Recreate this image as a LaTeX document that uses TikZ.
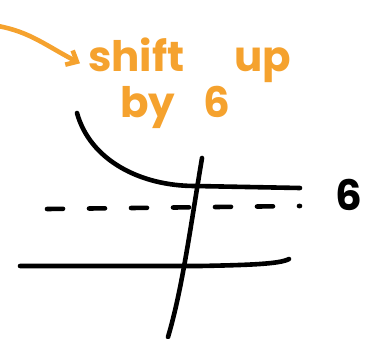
\documentclass[tikz,border=0pt]{standalone}
\usepackage{fontspec}
\setmainfont{Poppins}
\usetikzlibrary{arrows.meta}
\definecolor{marker}{HTML}{F5A22E}

\begin{document}
\begin{tikzpicture}[x=1pt,y=-1pt,
    ink/.style={line width=4.6pt,line cap=round,line join=round},
    note/.style={text=marker,font=\fontsize{42}{42}\selectfont\bfseries,inner sep=0pt,anchor=base west}]

    \useasboundingbox (0,0) rectangle (377,339);

    % orange remark
    \node[note] (shift) at (88,72) {shift};
    \node[note] (up) at (234,72) {up};
    \node[note] (by) at (120,118) {by};
    \node[note] (six) at (203,118) {6};
    \coordinate (from) at (-2,26);
    \draw[ink,marker,-{Straight Barb[length=9pt,width=16pt]}] (from) .. controls (30,32) and (45,45) .. ([xshift=-8pt,yshift=-8pt]shift.west);

    % axes
    \draw[ink] (20,266) -- (200,266) .. controls (250,265) and (280,264) .. (289,259);
    \draw[ink] (202,158) .. controls (190,230) and (182,290) .. (168,337);

    % shifted curve and asymptote
    \draw[ink] (77,113) .. controls (90,160) and (140,186) .. (195,186) -- (300,188);
    \draw[ink,dash pattern=on 16pt off 26pt] (47,209) -- (300,206);
    \node[font=\fontsize{42}{42}\selectfont\bfseries,inner sep=0pt] (level) at (349,195) {6};

\end{tikzpicture}
\end{document}
